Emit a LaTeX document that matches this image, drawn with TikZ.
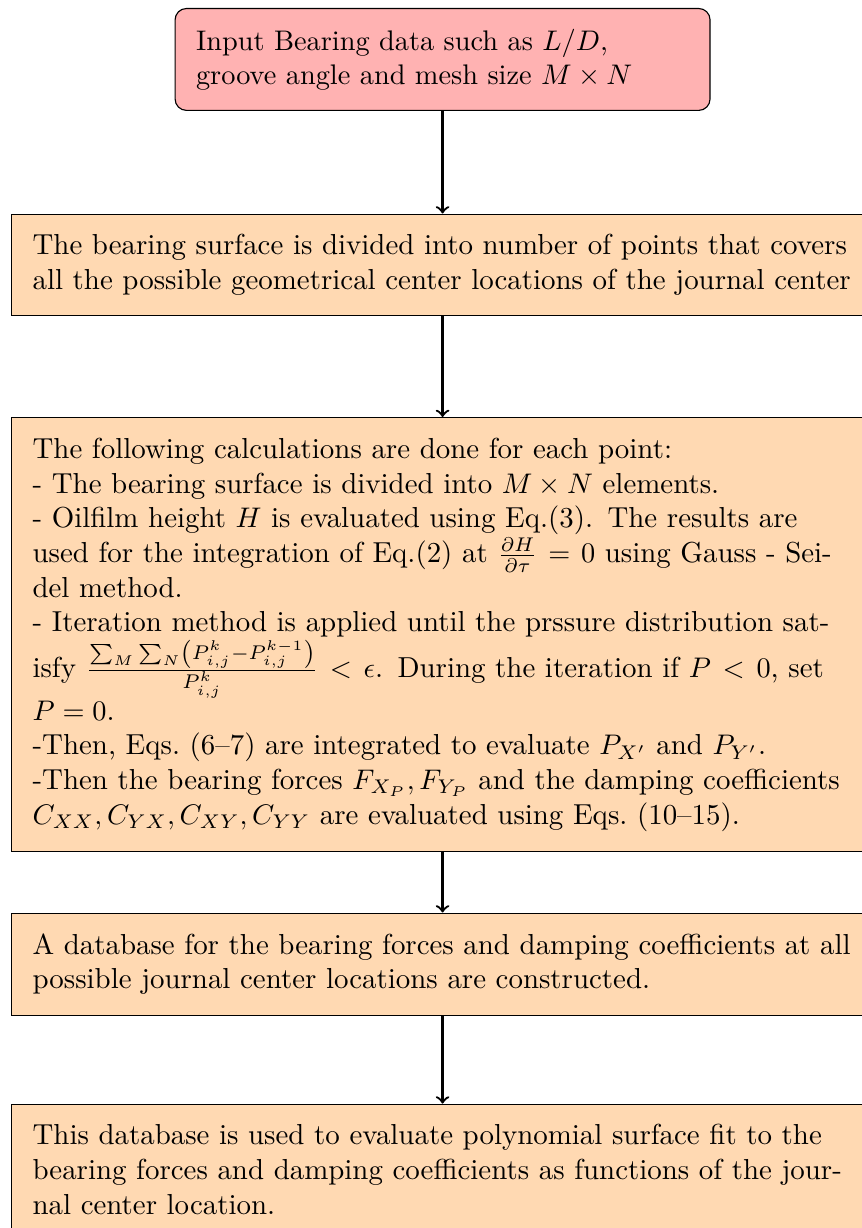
\documentclass[tikz,border=0pt]{standalone}
\usepackage{amsmath}
\usetikzlibrary{positioning}

\begin{document}
\begin{tikzpicture}[
  startbox/.style={draw, rounded corners, fill=red!30, text width=174pt,
    inner xsep=7.4pt, inner ysep=7.2pt, align=left},
  procbox/.style={draw, fill=orange!30, text width=289.4pt,
    inner xsep=7.4pt, inner ysep=7.2pt, align=left,
    font=\fontsize{10.2pt}{12.24pt}\selectfont},
  flow/.style={->, thick}]
\useasboundingbox (-156.2pt,2.8pt) rectangle (148pt,-430.6pt);

\node[startbox, anchor=north] (input) at (0,0)
  {Input Bearing data such as $L/D$, groove angle and mesh size $M\times N$};
\node[procbox, below=36.2pt of input] (grid)
  {The bearing surface is divided into number of points that covers all the
   possible geometrical center locations of the journal center};
\node[procbox, below=35.5pt of grid] (calc)
  {The following calculations are done for each point:\\
   - The bearing surface is divided into $M\times N$ elements.\\
   - Oilfilm height $H$ is evaluated using Eq.(3). The results are used for
   the integration of Eq.(2) at $\frac{\partial H}{\partial\tau}=0$ using
   Gauss - Seidel method.\\
   - Iteration method is applied until the prssure distribution satisfy
   $\frac{\sum_M\sum_N\left(P^k_{i,j}-P^{k-1}_{i,j}\right)}{P^k_{i,j}}<\epsilon$.
   During the iteration if $P<0$, set $P=0$.\\
   -Then, Eqs.~(6--7) are integrated to evaluate $P_{X'}$ and $P_{Y'}$.\\
   -Then the bearing forces $F_{X_P},F_{Y_P}$ and the damping coefficients
   $C_{XX},C_{YX},C_{XY},C_{YY}$ are evaluated using Eqs.~(10--15).};
\node[procbox, below=21.2pt of calc] (base)
  {A database for the bearing forces and damping coefficients at all possible
   journal center locations are constructed.};
\node[procbox, below=31pt of base] (fit)
  {This database is used to evaluate polynomial surface fit to the bearing
   forces and damping coefficients as functions of the journal center
   location.};

\draw[flow] (input) -- (grid);
\draw[flow] (grid) -- (calc);
\draw[flow] (calc) -- (base);
\draw[flow] (base) -- (fit);
\end{tikzpicture}
\end{document}
